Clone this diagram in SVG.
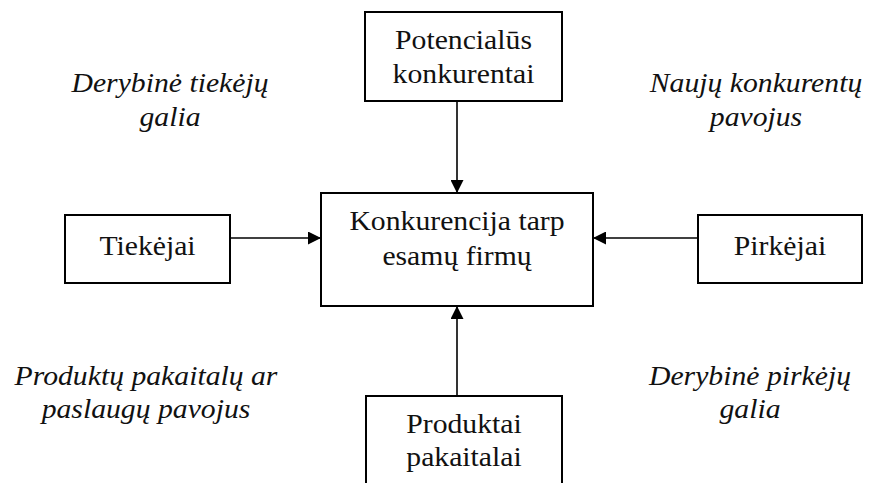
<svg xmlns="http://www.w3.org/2000/svg" width="869" height="483" viewBox="0 0 869 483">
  <style>
    .box { fill: #fff; stroke: #000; stroke-width: 2; }
    .link { stroke: #000; stroke-width: 1.6; fill: none; }
    .lbl { font-size: 27px; fill: #111; text-anchor: middle; }
    .note { font-style: italic; }
  </style>
  <defs>
    <marker id="arrow" viewBox="0 0 13 13" refX="13" refY="6.5" markerWidth="13" markerHeight="13" markerUnits="userSpaceOnUse" orient="auto">
      <path d="M0,0 L13,6.5 L0,13 Z" fill="#000"/>
    </marker>
  </defs>

  <rect width="869" height="483" fill="#fff"/>

  <!-- connectors -->
  <g id="connectors">
    <line class="link" x1="457" y1="101" x2="457" y2="193" marker-end="url(#arrow)"/>
    <line class="link" x1="230" y1="238" x2="321" y2="238" marker-end="url(#arrow)"/>
    <line class="link" x1="698" y1="238" x2="593" y2="238" marker-end="url(#arrow)"/>
    <line class="link" x1="457" y1="396" x2="457" y2="306" marker-end="url(#arrow)"/>
  </g>

  <g font-family="Liberation Serif, Times New Roman, Tinos, DejaVu Serif, serif">
  <!-- nodes -->
  <g id="potencialus">
    <rect class="box" x="365" y="12" width="197" height="89"/>
    <text class="lbl" transform="matrix(1.1 0 0 1 463.5 49)">Potencialūs</text>
    <text class="lbl" transform="matrix(1.1 0 0 1 463.5 83)">konkurentai</text>
  </g>

  <g id="konkurencija">
    <rect class="box" x="321" y="193" width="272" height="113"/>
    <text class="lbl" transform="matrix(1.1 0 0 1 457 230)">Konkurencija tarp</text>
    <text class="lbl" transform="matrix(1.1 0 0 1 457 265)">esamų firmų</text>
  </g>

  <g id="tiekejai">
    <rect class="box" x="65" y="215" width="165" height="68"/>
    <text class="lbl" transform="matrix(1.1 0 0 1 147.5 255)">Tiekėjai</text>
  </g>

  <g id="pirkejai">
    <rect class="box" x="698" y="215" width="164" height="68"/>
    <text class="lbl" transform="matrix(1.1 0 0 1 780 255)">Pirkėjai</text>
  </g>

  <g id="pakaitalai">
    <rect class="box" x="366" y="396" width="196" height="100"/>
    <text class="lbl" transform="matrix(1.1 0 0 1 464 433)">Produktai</text>
    <text class="lbl" transform="matrix(1.1 0 0 1 464 466)">pakaitalai</text>
  </g>

  <!-- force labels -->
  <g id="tiekeju-galia">
    <text class="lbl note" transform="matrix(1.1 0 0 1 170 92)">Derybinė tiekėjų</text>
    <text class="lbl note" transform="matrix(1.1 0 0 1 170 126)">galia</text>
  </g>
  <g id="nauju-pavojus">
    <text class="lbl note" transform="matrix(1.1 0 0 1 756 92)">Naujų konkurentų</text>
    <text class="lbl note" transform="matrix(1.1 0 0 1 756 126)">pavojus</text>
  </g>
  <g id="pakaitalu-pavojus">
    <text class="lbl note" transform="matrix(1.1 0 0 1 146 385)">Produktų pakaitalų ar</text>
    <text class="lbl note" transform="matrix(1.1 0 0 1 146 418)">paslaugų pavojus</text>
  </g>
  <g id="pirkeju-galia">
    <text class="lbl note" transform="matrix(1.1 0 0 1 750 385)">Derybinė pirkėjų</text>
    <text class="lbl note" transform="matrix(1.1 0 0 1 750 418)">galia</text>
  </g>
  </g>
</svg>
